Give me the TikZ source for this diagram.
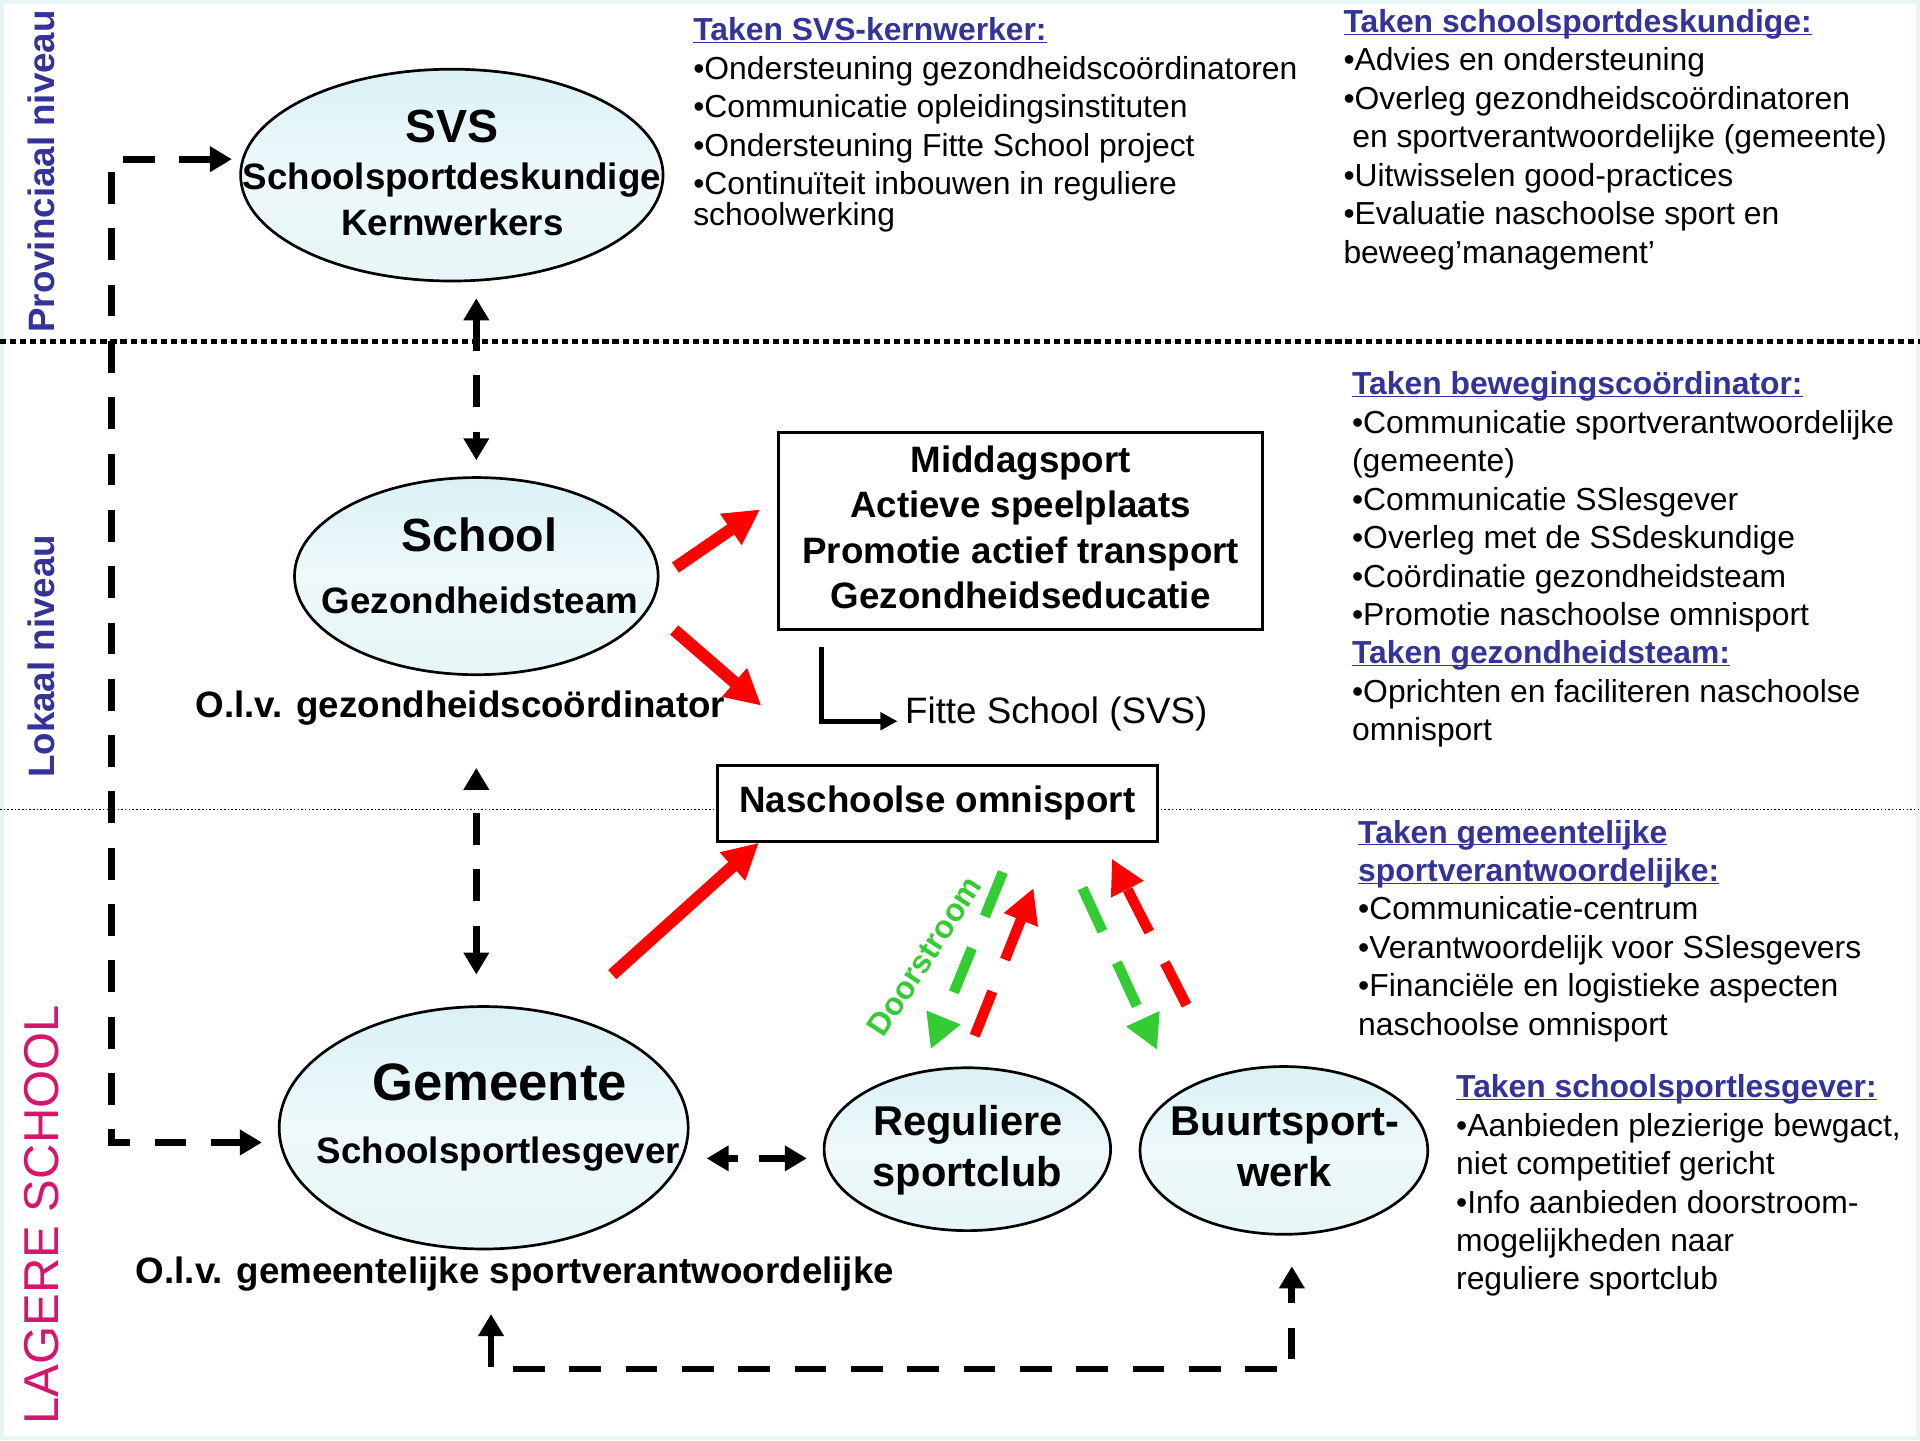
\documentclass[tikz,border=0pt]{standalone}
\usepackage{fontspec}
\setmainfont{Liberation Sans}
\usetikzlibrary{arrows.meta,calc,shapes.geometric}
\definecolor{hblue}{RGB}{51,51,153}
\definecolor{lpink}{RGB}{214,22,108}
\definecolor{dgreen}{RGB}{51,204,51}
\definecolor{ctop}{RGB}{218,241,246}
\definecolor{cmid}{RGB}{238,249,250}
\definecolor{cbot}{RGB}{230,245,245}
\definecolor{framec}{RGB}{232,245,245}
\newcommand\hd[1]{\textcolor{hblue}{\bfseries\underline{\raisebox{0pt}[\height][0pt]{#1}}}}
\begin{document}
\begin{tikzpicture}[x=1pt,y=-1pt,
  ell/.style={ellipse, draw, line width=2.2, inner sep=0, top color=ctop, bottom color=cbot, middle color=cmid},
  tline/.style={anchor=base, inner sep=0},
  fb30/.style={font=\fontsize{30}{36}\selectfont\bfseries},
  txtblk/.style={anchor=north west, inner sep=0, align=left, font=\fontsize{26}{31.4}\selectfont},
  redarr/.style={draw=red, line width=10, -{Triangle[length=29,width=29]}},
  blk/.style={line width=5.5, dash pattern=on 26 off 20, {Triangle[length=18,width=20]}-{Triangle[length=18,width=20]}},
  gdash/.style={draw=dgreen, line width=8.5, dash pattern=on 39 off 28, -{Triangle[length=28,width=28]}},
  rdash/.style={draw=red, line width=8.5, dash pattern=on 39 off 28, -{Triangle[length=28,width=28]}}
]
\fill[framec] (0,0) rectangle (1568,1176);
\fill[white] (3,3) rectangle (1565,1173);
\useasboundingbox (0,0) rectangle (1568,1176);

% level separators
\draw[line width=3.5, dash pattern=on 5 off 3.2] (0,279) -- (1568,279);
\draw[line width=1.3, dash pattern=on 1.3 off 1.7] (0,661) -- (1568,661);

% side labels
\node[rotate=90, inner sep=0, font=\fontsize{30}{36}\selectfont\bfseries, text=hblue] (lprov) at (34,140) {Provinciaal niveau};
\node[rotate=90, inner sep=0, font=\fontsize{30}{36}\selectfont\bfseries, text=hblue] (llok) at (34,536) {Lokaal niveau};
\node[rotate=90, inner sep=0, font=\fontsize{40}{48}\selectfont, text=lpink] (llag) at (34,992) {LAGERE SCHOOL};

% ellipses
\node[ell, minimum width=345, minimum height=173] (svs) at (369,143) {};
\node[ell, minimum width=297, minimum height=161] (school) at (389,470.5) {};
\node[ell, minimum width=334, minimum height=198] (gem) at (395,921) {};
\node[ell, minimum width=234, minimum height=133] (reg) at (790,938.5) {};
\node[ell, minimum width=235, minimum height=137] (buurt) at (1048.5,939.5) {};

% ellipse texts
\node[tline, font=\fontsize{38}{40}\selectfont\bfseries] (svst1) at (369,116.6) {SVS};
\node[tline, fb30] (svst2) at (369,155) {Schoolsportdeskundige};
\node[tline, fb30] (svst3) at (369.5,192) {Kernwerkers};
\node[tline, font=\fontsize{38}{40}\selectfont\bfseries] (scht1) at (391.5,450.5) {School};
\node[tline, fb30] (scht2) at (392,501) {Gezondheidsteam};
\node[tline, fb30] (olv1) at (376,586) {O.l.v. gezondheidscoördinator};
\node[tline, font=\fontsize{43}{46}\selectfont\bfseries] (gemt1) at (408,899) {Gemeente};
\node[tline, fb30] (gemt2) at (407,950) {Schoolsportlesgever};
\node[tline, fb30] (olv2) at (420.5,1048) {O.l.v. gemeentelijke sportverantwoordelijke};
\node[tline, font=\fontsize{34}{38}\selectfont\bfseries] (regt1) at (790.5,927) {Reguliere};
\node[tline, font=\fontsize{34}{38}\selectfont\bfseries] (regt2) at (790,969) {sportclub};
\node[tline, font=\fontsize{34}{38}\selectfont\bfseries] (buut1) at (1049.5,927) {Buurtsport-};
\node[tline, font=\fontsize{34}{38}\selectfont\bfseries] (buut2) at (1049,969) {werk};

% boxes
\node[draw, line width=2.5, minimum width=395, minimum height=161, inner sep=0, align=center, font=\fontsize{30}{37}\selectfont\bfseries] (mid) at (833.5,433.5) {Middagsport\\Actieve speelplaats\\Promotie actief transport\\Gezondheidseducatie\rule[-6pt]{0pt}{0pt}};
\node[draw, fill=white, line width=2.5, minimum width=359, minimum height=62, inner sep=0, font=\fontsize{30}{36}\selectfont\bfseries] (nas) at (765.5,656) {Naschoolse omnisport};
\node[anchor=base west, inner sep=0, font=\fontsize{30}{36}\selectfont] (fitte) at (739,591) {Fitte School (SVS)};
\draw[line width=4, -{Triangle[length=14,width=14]}] ($(mid.south west)+(36,13)$) |- ($(fitte.base west)+(-6,-2)$);

% right text blocks
\node[txtblk] (b1) at (566,14.4) {\hd{Taken SVS-kernwerker:}\\
•Ondersteuning gezondheidscoördinatoren\\
•Communicatie opleidingsinstituten\\
•Ondersteuning Fitte School project\\
•Continuïteit inbouwen in reguliere\\[-6.4pt]
schoolwerking};
\node[txtblk] (b2) at (1097,7.4) {\hd{Taken schoolsportdeskundige:}\\
•Advies en ondersteuning\\
•Overleg gezondheidscoördinatoren\\
\hspace*{7.2pt}en sportverantwoordelijke (gemeente)\\
•Uitwisselen good-practices\\
•Evaluatie naschoolse sport en\\
beweeg’management’};
\node[txtblk] (b3) at (1104,303.4) {\hd{Taken bewegingscoördinator:}\\
•Communicatie sportverantwoordelijke\\
(gemeente)\\
•Communicatie SSlesgever\\
•Overleg met de SSdeskundige\\
•Coördinatie gezondheidsteam\\
•Promotie naschoolse omnisport\\
\hd{Taken gezondheidsteam:}\\
•Oprichten en faciliteren naschoolse\\
omnisport};
\node[txtblk] (b4) at (1109,669.4) {\hd{Taken gemeentelijke}\\
\hd{sportverantwoordelijke:}\\
•Communicatie-centrum\\
•Verantwoordelijk voor SSlesgevers\\
•Financiële en logistieke aspecten\\
naschoolse omnisport};
\node[txtblk] (b5) at (1189,877.4) {\hd{Taken schoolsportlesgever:}\\
•Aanbieden plezierige bewgact,\\
niet competitief gericht\\
•Info aanbieden doorstroom-\\
mogelijkheden naar\\
reguliere sportclub};

% red arrows
\draw[redarr] ($(school.east)+(13,-7)$) -- ($(mid.west)+(-14,-17.5)$);
\draw[redarr] ($(school.east)+(12,44)$) -- ($(mid.south west)+(-13,61)$);
\draw[redarr] ($(gem.north)+(105,-25)$) -- ($(nas.south west)+(35,0)$);

% black dashed connectors
\draw[blk] ($(svs.south -| school.north)+(0,13)$) -- ($(school.north)+(0,-13)$);
\draw[blk, dash phase=26] ($(school.south)+(0,75)$) -- ($(school.south |- gem.north)+(0,-25)$);
\draw[blk, dash pattern=on 9 off 17 on 30 off 1] ($(gem.east)+(14,25)$) -- ($(reg.west)+(-13,7.5)$);
\draw[blk] ($(svs.west)+(-6,-13)$) -- ++(-98.5,0) |- ($(gem.west)+(-13,12)$);
\draw[blk] ($(gem.south)+(6,52)$) |- ($(buurt.south)+(6.5,109)$) -- ($(buurt.south)+(6.5,25)$);

% green / red dashed flows
\draw[gdash] ($(nas.south)+(53.5,24)$) -- ($(reg.north)+(-30,-14)$);
\draw[rdash] ($(reg.north)+(6,-25)$) -- ($(nas.south)+(78.5,37)$);
\draw[gdash] ($(nas.south)+(118.5,37)$) -- ($(buurt.north)+(-103.5,-12.5)$);
\draw[rdash] ($(buurt.north)+(-79.5,-49)$) -- ($(nas.south)+(142.5,13)$);
\node[rotate=57, inner sep=0, font=\fontsize{26}{30}\selectfont\bfseries, text=dgreen] (door) at (755,781) {Doorstroom};
\end{tikzpicture}
\end{document}
